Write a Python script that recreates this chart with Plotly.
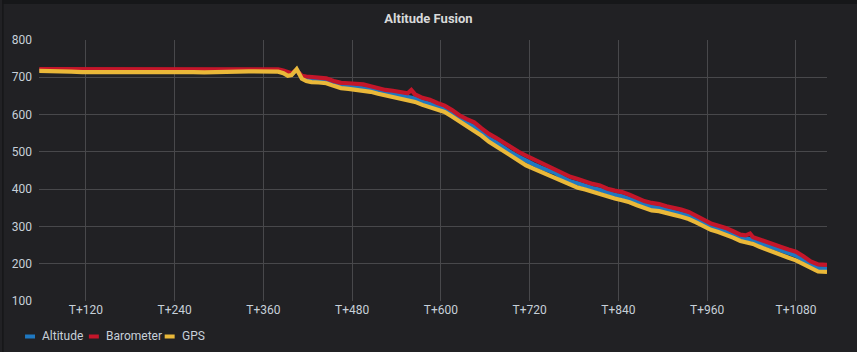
import plotly.graph_objects as go

# ---- data ----
t = [57, 70, 85, 100, 115, 130, 145, 160, 175, 190, 205, 220, 235, 250, 265, 280, 295, 310,
     325, 340, 355, 370, 380, 387, 393, 398, 402, 405, 408, 412, 418, 425, 435, 445, 455,
     465, 475, 485, 495, 505, 515, 525, 535, 545, 555, 560, 565, 575, 585, 595, 605, 615,
     625, 635, 645, 655, 665, 675, 685, 695, 705, 715, 725, 735, 745, 755, 765, 775, 785,
     795, 805, 815, 825, 835, 845, 855, 865, 875, 885, 895, 905, 915, 925, 935, 945, 955,
     965, 975, 985, 995, 1005, 1012, 1018, 1022, 1030, 1040, 1050, 1060, 1070, 1080, 1090,
     1100, 1110, 1122]

barometer = [722, 722, 722, 722, 722, 722, 722, 722, 722, 722, 722, 722, 722, 722, 722, 722,
             722, 722, 722, 722, 722, 722, 721, 718, 713, 711, 716, 719, 712, 704, 702, 701,
             700, 697, 690, 685, 684, 683, 681, 676, 671, 666, 664, 660, 657, 666, 654, 645,
             640, 631, 624, 612, 598, 588, 579, 563, 548, 537, 524, 512, 500, 490, 480, 470,
             462, 453, 443, 433, 427, 420, 414, 410, 401, 396, 392, 385, 376, 368, 363, 360,
             354, 350, 345, 339, 330, 318, 308, 302, 296, 287, 278, 276, 281, 271, 265, 258,
             251, 245, 238, 232, 220, 206, 198, 197]

altitude = [719, 719, 718, 718, 717, 717, 718, 718, 718, 719, 718, 717, 718, 718, 717, 717,
            717, 717, 718, 719, 718, 718, 717, 714, 708, 707, 716, 721, 712, 700, 695, 693,
            692, 690, 683, 678, 676, 674, 672, 668, 664, 659, 656, 652, 648, 646, 643, 634,
            629, 621, 614, 602, 588, 577, 567, 551, 536, 525, 510, 498, 487, 476, 467, 458,
            451, 443, 431, 421, 416, 409, 403, 398, 390, 385, 381, 374, 366, 358, 353, 350,
            345, 340, 335, 329, 320, 309, 299, 294, 287, 279, 270, 268, 266, 264, 256, 249,
            241, 236, 229, 222, 210, 196, 188, 187]

gps = [717, 717, 716, 715, 714, 714, 715, 716, 716, 716, 715, 714, 715, 716, 714, 713,
       713, 714, 715, 716, 716, 716, 715, 711, 704, 706, 717, 722, 711, 696, 690, 687,
       686, 684, 677, 671, 669, 667, 665, 661, 656, 652, 648, 644, 640, 637, 634, 626,
       620, 614, 607, 595, 582, 570, 559, 543, 527, 514, 500, 487, 475, 464, 455, 446,
       439, 431, 421, 410, 404, 399, 393, 387, 379, 375, 370, 365, 357, 349, 343, 341,
       335, 331, 326, 320, 311, 300, 291, 285, 278, 270, 261, 258, 256, 253, 246, 238,
       230, 222, 216, 209, 198, 187, 179, 178]

tick_vals = [120, 240, 360, 480, 600, 720, 840, 960, 1080]
tick_text = ["T+120", "T+240", "T+360", "T+480", "T+600", "T+720", "T+840", "T+960", "T+1080"]
y_ticks = [100, 200, 300, 400, 500, 600, 700, 800]

series = [("Altitude", altitude, "#1f78c1"),
          ("Barometer", barometer, "#c4162a"),
          ("GPS", gps, "#eab839")]

BG = "#212124"
TXT = "#c7d0d9"
GRID = "#48484b"
FONT = "Roboto"

fig = go.Figure()
for name, vals, col in series:
    fig.add_trace(go.Scatter(x=t, y=vals, name=name, mode="lines",
                             line=dict(color=col, width=4.2), showlegend=False))

W, H = 857, 352
L, R, T, B = 37, 30, 40, 51
pw, ph = W - L - R, H - T - B

def px(x):
    return (x - L) / pw

def py(y):
    return (H - B - y) / ph

shapes = []
annotations = []
# outer dark frame (top and left edges)
shapes.append(dict(type="rect", xref="paper", yref="paper", x0=px(0), x1=px(W), y0=py(4), y1=py(0),
                   fillcolor="#161719", line=dict(width=0), layer="below"))
shapes.append(dict(type="rect", xref="paper", yref="paper", x0=px(0), x1=px(1.5), y0=py(H), y1=py(0),
                   fillcolor="#161719", line=dict(width=0), layer="below"))

# custom legend
leg = [("Altitude", "#1f78c1", 23), ("Barometer", "#c4162a", 87), ("GPS", "#eab839", 163)]
for name, col, x0 in leg:
    shapes.append(dict(type="line", xref="paper", yref="paper", x0=px(x0), x1=px(x0 + 10),
                       y0=py(336.5), y1=py(336.5), line=dict(color=col, width=4)))
    annotations.append(dict(text=name, xref="paper", yref="paper", x=px(x0 + 15), y=py(336),
                            xanchor="left", yanchor="middle", showarrow=False,
                            font=dict(family=FONT, size=12, color=TXT)))

fig.update_layout(
    width=W, height=H,
    margin=dict(l=L, r=R, t=T, b=B),
    paper_bgcolor=BG, plot_bgcolor=BG,
    font=dict(family=FONT, size=12, color=TXT),
    title=dict(text="<b>Altitude Fusion</b>", x=0.5, xanchor="center", y=1 - 18 / H, yanchor="middle",
               font=dict(family=FONT, size=13, color="#d8d9da")),
    shapes=shapes, annotations=annotations,
    xaxis=dict(range=[56.6, 1122], tickvals=tick_vals, ticktext=tick_text, showgrid=True,
               gridcolor=GRID, gridwidth=1, zeroline=False, showline=False, ticks="",
               tickfont=dict(family=FONT, size=12, color=TXT)),
    yaxis=dict(range=[100, 800], tickvals=y_ticks, showgrid=True, gridcolor=GRID, gridwidth=1,
               zeroline=False, showline=False, ticks="", ticklabelstandoff=6,
               tickfont=dict(family=FONT, size=12, color=TXT)),
)

fig.write_html("out.html")
